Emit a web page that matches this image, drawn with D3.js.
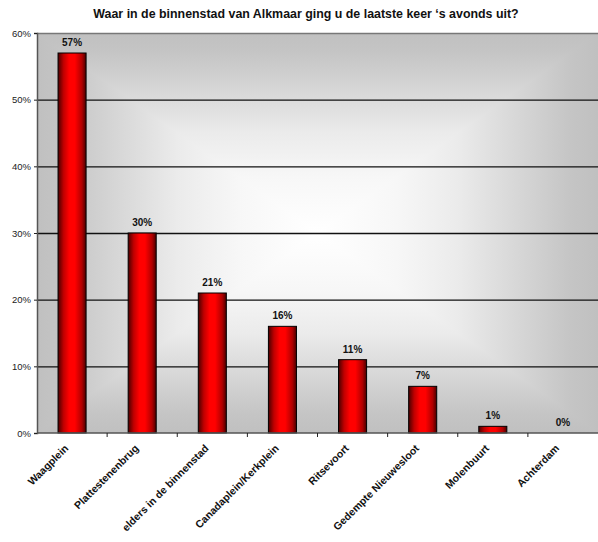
<!DOCTYPE html>
<html><head><meta charset="utf-8">
<script src="https://cdn.jsdelivr.net/npm/d3@7"></script>
<style>body{margin:0;background:#fff;}svg{display:block;font-family:"Liberation Sans",Arial,sans-serif;}</style>
</head><body>
<script>
const categories = ["Waagplein","Plattestenenbrug","elders in de binnenstad","Canadaplein/Kerkplein","Ritsevoort","Gedempte Nieuwesloot","Molenbuurt","Achterdam"];
const values = [57,30,21,16,11,7,1,0];
const yTicks = [0,10,20,30,40,50,60];
const title = "Waar in de binnenstad van Alkmaar ging u de laatste keer \u2018s avonds uit?";

const W=598,H=542;
const m={l:37,r:0,t:33,b:109};
const svg=d3.select("body").append("svg").attr("width",W).attr("height",H);
const defs=svg.append("defs");
function grad(id,horiz){
  const g=defs.append("linearGradient").attr("id",id).attr("x1","0").attr("y1","0")
    .attr("x2",horiz?"1":"0").attr("y2",horiz?"0":"1");
  [[0,"#c0c0c0"],[0.05,"#c5c5c5"],[0.15,"#d8d8d8"],[0.25,"#ebebeb"],[0.36,"#f7f7f7"],[0.5,"#ffffff"],[0.64,"#f7f7f7"],[0.75,"#ebebeb"],[0.85,"#d8d8d8"],[0.95,"#c5c5c5"],[1,"#c0c0c0"]].forEach(([o,c])=>g.append("stop").attr("offset",o).attr("stop-color",c));
}
grad("bgh",true); grad("bgv",false);
const bar=defs.append("linearGradient").attr("id","bar").attr("x1","0").attr("x2","1").attr("y1","0").attr("y2","0");
[[0,"#4a0000"],[0.2,"#c00000"],[0.4,"#ff0000"],[0.6,"#ff0000"],[0.85,"#b00000"],[1,"#4a0000"]].forEach(([o,c])=>bar.append("stop").attr("offset",o).attr("stop-color",c));

const x=d3.scaleBand().domain(categories).range([m.l,W-m.r]).paddingInner(0.6).paddingOuter(0.3);
const y=d3.scaleLinear().domain([0,60]).range([H-m.b,m.t]);

const bgG=svg.append("g").style("isolation","isolate");
bgG.append("rect").attr("x",m.l).attr("y",m.t).attr("width",W-m.r-m.l).attr("height",H-m.b-m.t).attr("fill","url(#bgh)");
bgG.append("rect").attr("x",m.l).attr("y",m.t).attr("width",W-m.r-m.l).attr("height",H-m.b-m.t).attr("fill","url(#bgv)").style("mix-blend-mode","darken");

svg.append("g").selectAll("line").data(yTicks.filter(d=>d>0)).join("line")
 .attr("x1",m.l).attr("x2",W-m.r).attr("y1",d=>y(d)+0.5).attr("y2",d=>y(d)+0.5)
 .attr("stroke",d=>d===60?"#777":"#111").attr("stroke-width",d=>d===60?1.5:1.3);

svg.append("g").selectAll("rect").data(values).join("rect")
 .attr("x",(d,i)=>x(categories[i])).attr("width",x.bandwidth())
 .attr("y",d=>y(d)).attr("height",d=>y(0)-y(d))
 .attr("fill","url(#bar)").attr("stroke","#000").attr("stroke-width",1);

svg.append("g").selectAll("text").data(values).join("text")
 .attr("x",(d,i)=>x(categories[i])+x.bandwidth()/2).attr("y",d=>y(d)-7)
 .attr("text-anchor","middle").attr("font-size","10px").attr("font-weight","bold").attr("fill","#111")
 .text(d=>d+"%");

const ya=svg.append("g").attr("transform",`translate(${m.l},0)`)
 .call(d3.axisLeft(y).tickValues(yTicks).tickFormat(d=>d+"%").tickSize(3).tickPadding(3));
ya.select(".domain").attr("stroke","#555").attr("stroke-width",1.5);
ya.selectAll(".tick line").attr("stroke","#222");
ya.selectAll("text").attr("font-size","9.5px").attr("fill","#222").attr("font-family","Liberation Sans, Arial, sans-serif");

const step=x.step();
const xa=svg.append("g").attr("transform",`translate(0,${H-m.b})`);
xa.append("line").attr("x1",m.l).attr("x2",W-m.r).attr("stroke","#555").attr("stroke-width",1.5);
xa.selectAll(".tk").data(categories.slice(1)).join("line").attr("class","tk")
 .attr("x1",d=>x(d)+x.bandwidth()/2-step/2).attr("x2",d=>x(d)+x.bandwidth()/2-step/2).attr("y1",0).attr("y2",4).attr("stroke","#222");
xa.selectAll("text").data(categories).join("text")
 .attr("transform",d=>`translate(${x(d)+x.bandwidth()/2-3},${16}) rotate(-45)`)
 .attr("text-anchor","end").attr("font-size","10.5px").attr("font-weight","bold").attr("fill","#111").text(d=>d);

svg.append("text").attr("x",306).attr("y",18).attr("text-anchor","middle")
 .attr("font-size","12.4px").attr("font-weight","bold").attr("fill","#111").text(title);
</script>
</body></html>
